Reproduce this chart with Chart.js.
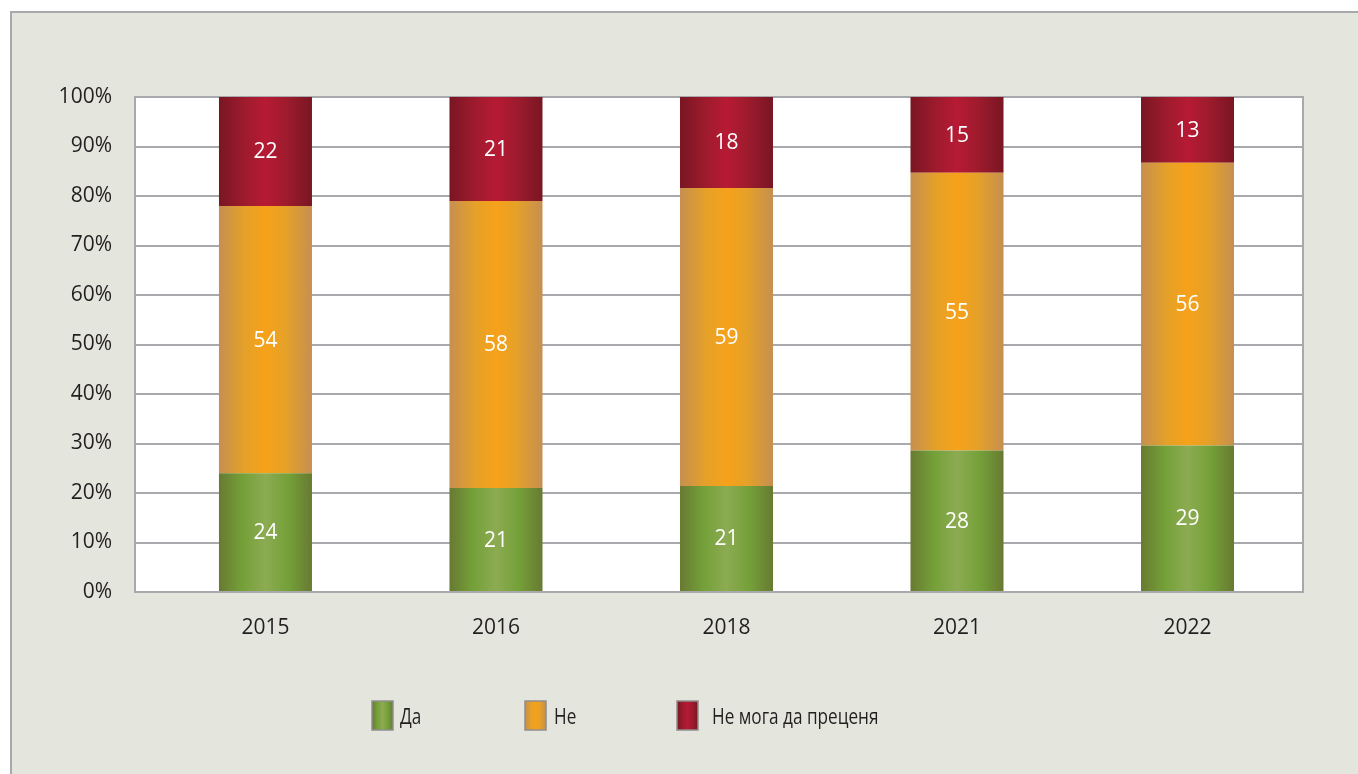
<!DOCTYPE html>
<html>
<head>
<meta charset="utf-8">
<script src="https://cdn.jsdelivr.net/npm/chart.js@4.4.1/dist/chart.umd.min.js"></script>
<style>
  html, body { margin: 0; padding: 0; background: #ffffff; width: 1358px; height: 774px; overflow: hidden; }
  #frame { position: absolute; left: 10px; top: 11px; width: 1400px; height: 800px; box-sizing: border-box;
           border: 2px solid #a7a9ab; background: #e4e6de; }
  #wrap { position: absolute; left: 0; top: 0; width: 1358px; height: 774px; }
</style>
</head>
<body>
<div id="frame"></div>
<div id="wrap"><canvas id="c"></canvas></div>
<script>
const categories = ['2015', '2016', '2018', '2021', '2022'];
const yesValues = [24, 21, 21, 28, 29];
const noValues = [54, 58, 59, 55, 56];
const cantSayValues = [22, 21, 18, 15, 13];
const seriesNames = ['Да', 'Не', 'Не мога да преценя'];
const yTickSuffix = '%';

const totals = categories.map((_, i) => yesValues[i] + noValues[i] + cantSayValues[i]);
const toPoints = arr => arr.map((v, i) => ({ x: i, y: v / totals[i] * 100, raw: v }));

const CAT_PCT = 0.4035;
const FONT = "'Open Sans', 'Noto Sans', sans-serif";
const TEXT = '#231f20';
const GRID = '#a7a9ac';

const greenStops = [[0, '#687a32'], [0.25, '#74a038'], [0.5, '#8cab52'], [0.75, '#74a038'], [1, '#687a32']];
const orangeStops = [[0, '#c68f50'], [0.28, '#e5a128'], [0.5, '#f7a11a'], [0.72, '#e5a128'], [1, '#c68f50']];
const redStops = [[0, '#791623'], [0.28, '#9e1b2d'], [0.5, '#b71a34'], [0.72, '#9e1b2d'], [1, '#791623']];

function makeGrad(ctx2d, x0, x1, stops) {
  const g = ctx2d.createLinearGradient(x0, 0, x1, 0);
  stops.forEach(([o, c]) => g.addColorStop(o, c));
  return g;
}
function barGrad(stops) {
  return (ctx) => {
    const chart = ctx.chart;
    const xs = chart.scales && chart.scales.x;
    if (!xs || ctx.dataIndex === undefined || !chart.chartArea) return stops[2][1];
    const c = xs.getPixelForValue(ctx.dataIndex);
    const w = Math.abs(xs.getPixelForValue(1) - xs.getPixelForValue(0)) * CAT_PCT;
    return makeGrad(chart.ctx, c - w / 2, c + w / 2, stops);
  };
}

const framePlugin = {
  id: 'framePlugin',
  beforeDraw(chart) {
    const { ctx, chartArea: a } = chart;
    ctx.save();
    ctx.fillStyle = '#ffffff';
    ctx.fillRect(a.left, a.top, a.right - a.left, a.bottom - a.top);
    ctx.restore();
  },
  beforeDatasetsDraw(chart) {
    const { ctx, chartArea: a } = chart;
    ctx.save();
    ctx.strokeStyle = GRID;
    ctx.lineWidth = 2;
    ctx.strokeRect(a.left, a.top, a.right - a.left, a.bottom - a.top);
    ctx.restore();
  },
  afterDatasetsDraw(chart) {
    const ctx = chart.ctx;
    ctx.save();
    ctx.fillStyle = '#ffffff';
    ctx.font = '21px ' + FONT;
    ctx.textAlign = 'center';
    ctx.textBaseline = 'middle';
    chart.data.datasets.forEach((ds, di) => {
      const meta = chart.getDatasetMeta(di);
      meta.data.forEach((el, i) => {
        const p = el.getProps(['x', 'y', 'base'], true);
        ctx.fillText(String(ds.data[i].raw), p.x, (p.y + p.base) / 2 + 1);
      });
    });
    ctx.restore();
  },
  afterDraw(chart) {
    const ctx = chart.ctx;
    const items = [
      { box: 372, text: 400, stops: greenStops },
      { box: 525, text: 554, stops: orangeStops },
      { box: 677, text: 712, stops: redStops }
    ];
    items.forEach((it, i) => {
      const bw = 21, bh = 29, by = 701;
      ctx.save();
      ctx.fillStyle = makeGrad(ctx, it.box, it.box + bw, it.stops);
      ctx.fillRect(it.box, by, bw, bh);
      ctx.strokeStyle = '#8e8f8f';
      ctx.lineWidth = 1.5;
      ctx.strokeRect(it.box, by, bw, bh);
      ctx.translate(it.text, 718);
      ctx.scale(0.78, 1);
      ctx.fillStyle = TEXT;
      ctx.font = '22px ' + FONT;
      ctx.textAlign = 'left';
      ctx.textBaseline = 'middle';
      ctx.fillText(seriesNames[i], 0, 0);
      ctx.restore();
    });
  }
};

Chart.defaults.font.family = FONT;
Chart.defaults.font.size = 21;
Chart.defaults.color = TEXT;

new Chart(document.getElementById('c'), {
  type: 'bar',
  data: {
    datasets: [
      { label: seriesNames[0], data: toPoints(yesValues), backgroundColor: barGrad(greenStops) },
      { label: seriesNames[1], data: toPoints(noValues), backgroundColor: barGrad(orangeStops) },
      { label: seriesNames[2], data: toPoints(cantSayValues), backgroundColor: barGrad(redStops) }
    ]
  },
  options: {
    responsive: true,
    maintainAspectRatio: false,
    animation: false,
    datasets: { bar: { categoryPercentage: CAT_PCT, barPercentage: 1, borderWidth: 0 } },
    layout: { padding: { top: 97, right: 55, left: 0, bottom: 0 } },
    plugins: { legend: { display: false }, tooltip: { enabled: false } },
    scales: {
      x: {
        type: 'linear',
        stacked: true,
        offset: false,
        min: -0.566,
        max: 4.501,
        afterBuildTicks: (s) => { s.ticks = categories.map((_, i) => ({ value: i })); },
        afterFit: (s) => { s.height = 182; },
        grid: { display: false, drawTicks: false, offset: false },
        border: { display: false },
        ticks: { padding: 23, autoSkip: false, maxRotation: 0, callback: (v) => categories[v] }
      },
      y: {
        stacked: true,
        min: 0,
        max: 100,
        afterFit: (s) => { s.width = 135; },
        grid: { color: GRID, lineWidth: 2, drawTicks: false },
        border: { display: true, color: GRID, width: 2 },
        ticks: { stepSize: 10, padding: 23, callback: (v) => v + yTickSuffix }
      }
    }
  },
  plugins: [framePlugin]
});
</script>
</body>
</html>
